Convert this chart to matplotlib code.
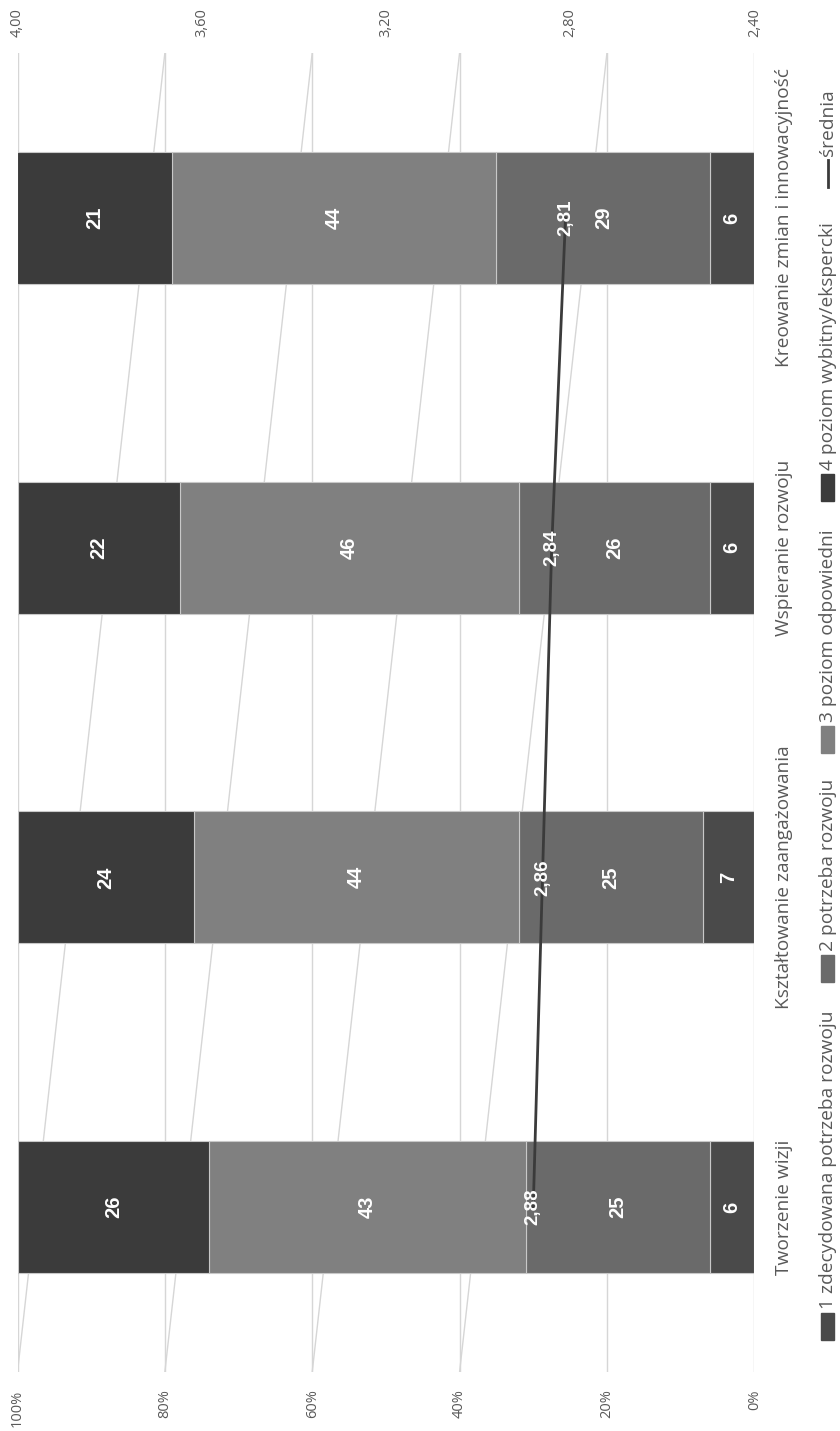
import matplotlib
matplotlib.use("Agg")
import matplotlib.pyplot as plt
from matplotlib.patches import Rectangle
from matplotlib.lines import Line2D
import numpy as np

# --- data -------------------------------------------------------------
categories = ["Tworzenie wizji", "Kształtowanie zaangażowania",
              "Wspieranie rozwoju", "Kreowanie zmian i innowacyjność"]
series_names = ["1 zdecydowana potrzeba rozwoju", "2 potrzeba rozwoju",
                "3 poziom odpowiedni", "4 poziom wybitny/ekspercki"]
level1 = [6, 7, 6, 6]
level2 = [25, 25, 26, 29]
level3 = [43, 44, 46, 44]
level4 = [26, 24, 22, 21]
mean_name = "średnia"
mean_values = [2.88, 2.86, 2.84, 2.81]
pct_ticks = [0, 20, 40, 60, 80, 100]
mean_ticks = [2.40, 2.80, 3.20, 3.60, 4.00]

colors = ["#4a4a4a", "#6a6a6a", "#808080", "#3b3b3b"]
line_color = "#3b3b3b"
grid_color = "#d6d6d6"
text_color = "#595959"
FONT = "Open Sans"
BOLD = "Liberation Sans"
LABEL_SIZE = 13.8
TICK_SIZE = 10.5

W, H = 840, 1431
fig = plt.figure(figsize=(W / 100, H / 100), dpi=100)
fig.patch.set_facecolor("white")

# axes box in pixel coordinates (x grows right, y grows down)
left_px, right_px, top_px, bottom_px = 17.5, 754.3, 53, 1372
ax = fig.add_axes([left_px / W, 1 - bottom_px / H,
                   (right_px - left_px) / W, (bottom_px - top_px) / H])

ypos = np.arange(len(categories))
ax.set_ylim(-0.5, len(categories) - 0.5)
ax.set_xlim(100, 0)

# vertical gridlines on the percentage scale
for t in pct_ticks:
    ax.axvline(t, color=grid_color, lw=1.0, zorder=0)
# slanted guide lines joining neighbouring percentage levels
for lo, hi in zip(pct_ticks[1:-1], pct_ticks[2:]):
    ax.plot([lo, hi], [len(categories) - 0.5, -0.5], color=grid_color,
            lw=1.0, zorder=0)

# stacked bars
stack = [level1, level2, level3, level4]
base = np.zeros(len(categories))
for vals, col in zip(stack, colors):
    vals = np.array(vals, dtype=float)
    ax.barh(ypos, vals, left=base, height=0.4, color=col,
            edgecolor="#c8c8c8", linewidth=0.8, zorder=2)
    for y, b, v in zip(ypos, base, vals):
        ax.text(b + v / 2, y, f"{int(v)}", rotation=90, ha="center",
                va="center", color="white", fontsize=14.5,
                fontweight="bold", family=BOLD, zorder=5)
    base += vals

# percentage axis at the bottom
ax.set_xticks(pct_ticks)
ax.set_xticklabels([f"{t}%" for t in pct_ticks], rotation=90,
                   color=text_color, fontsize=TICK_SIZE, family=FONT)
ax.tick_params(axis="x", length=0, pad=12.5)

# category labels on the right
ax.yaxis.tick_right()
ax.set_yticks(ypos)
ax.set_yticklabels(categories, rotation=90, va="center", ha="left",
                   color=text_color, fontsize=LABEL_SIZE, family=FONT)
ax.tick_params(axis="y", length=0, pad=15)
for s in ax.spines.values():
    s.set_visible(False)

# mean line on the secondary scale (top)
ax2 = ax.twiny()
ax2.set_xlim(mean_ticks[-1], mean_ticks[0])
ax2.set_ylim(ax.get_ylim())
ax2.plot(mean_values, ypos, color=line_color, lw=2.0, zorder=4)
for y, m in zip(ypos, mean_values):
    ax2.text(m, y, f"{m:.2f}".replace(".", ","), rotation=90, ha="center",
             va="center", color="white", fontsize=13.5, fontweight="bold",
             family=BOLD, zorder=6)
ax2.set_xticks(mean_ticks)
ax2.set_xticklabels([f"{t:.2f}".replace(".", ",") for t in mean_ticks],
                    rotation=90, color=text_color, fontsize=TICK_SIZE,
                    family=FONT)
ax2.tick_params(axis="x", length=0, pad=11.5)
for s in ax2.spines.values():
    s.set_visible(False)

# legend column along the right edge, read bottom to top
def fx(px):
    return px / W

def fy(py):
    return 1 - py / H

marker_bottoms = [1340, 982, 753, 501]
for name, col, mb in zip(series_names, colors, marker_bottoms):
    fig.add_artist(Rectangle((fx(821), fy(mb)), 13 / W, 27 / H,
                             transform=fig.transFigure, color=col))
    fig.text(fx(828), fy(mb - 31), name, rotation=90, ha="center",
             va="bottom", color=text_color, fontsize=LABEL_SIZE, family=FONT)
fig.add_artist(Line2D([fx(827.5), fx(827.5)], [fy(187), fy(160)],
                      transform=fig.transFigure, color=line_color, lw=2.0))
fig.text(fx(828), fy(156), mean_name, rotation=90, ha="center",
         va="bottom", color=text_color, fontsize=LABEL_SIZE, family=FONT)

fig.savefig("out.png", dpi=100, facecolor="white")
